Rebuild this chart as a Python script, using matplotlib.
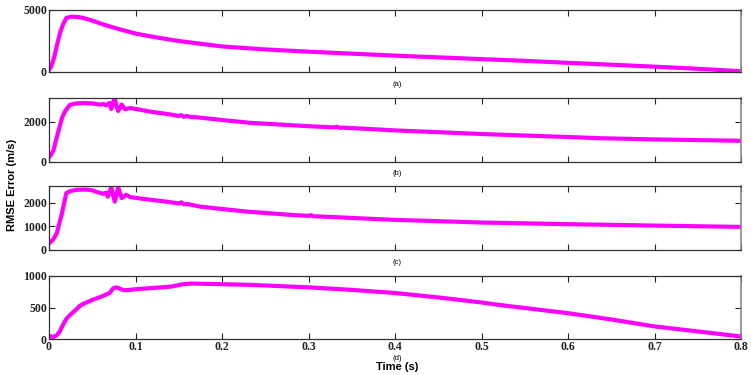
import matplotlib
matplotlib.use("Agg")
import matplotlib.pyplot as plt

# ---------------- data ----------------
t_a = [0, 0.003, 0.006, 0.01, 0.013, 0.016, 0.02, 0.025, 0.03, 0.035, 0.04, 0.05,
       0.06, 0.07, 0.08, 0.1, 0.125, 0.15, 0.2, 0.25, 0.3, 0.35, 0.4, 0.45, 0.5,
       0.55, 0.6, 0.65, 0.7, 0.75, 0.8]
rmse_a = [150, 500, 1200, 2400, 3200, 3800, 4350, 4460, 4450, 4420, 4350, 4150,
          3900, 3680, 3480, 3100, 2780, 2500, 2060, 1820, 1640, 1480, 1320, 1180, 1040,
          900, 740, 590, 430, 260, 60]

t_b = [0, 0.005, 0.01, 0.015, 0.0185, 0.024, 0.03, 0.039, 0.05, 0.059, 0.063, 0.066,
       0.070, 0.072, 0.074, 0.076, 0.078, 0.080, 0.082, 0.084, 0.086, 0.088, 0.094,
       0.117, 0.14, 0.15, 0.153, 0.156, 0.159, 0.165, 0.168, 0.2, 0.232, 0.3, 0.33,
       0.333, 0.336, 0.34, 0.4, 0.5, 0.6, 0.637, 0.7, 0.8]
rmse_b = [220, 560, 1400, 2200, 2530, 2850, 2920, 2950, 2930, 2870, 2900, 2830,
          2950, 2650, 2980, 3200, 2800, 2550, 2700, 2870, 2750, 2640, 2700,
          2520, 2380, 2300, 2340, 2260, 2300, 2240, 2250, 2100, 1960, 1790, 1730,
          1760, 1710, 1720, 1580, 1400, 1250, 1190, 1130, 1060]

t_c = [0, 0.005, 0.009, 0.015, 0.020, 0.025, 0.032, 0.042, 0.05, 0.055, 0.063,
       0.066, 0.068, 0.072, 0.076, 0.080, 0.084, 0.089, 0.094, 0.115, 0.136, 0.150,
       0.153, 0.156, 0.16, 0.175, 0.2, 0.229, 0.28, 0.3, 0.303, 0.306, 0.31, 0.4,
       0.5, 0.6, 0.637, 0.7, 0.8]
rmse_c = [280, 450, 710, 1550, 2400, 2490, 2540, 2550, 2520, 2450, 2370,
          2420, 2250, 2650, 2040, 2650, 2190, 2330, 2230, 2130, 2040, 1960,
          2010, 1930, 1940, 1830, 1730, 1620, 1480, 1440, 1470, 1420, 1420, 1270,
          1160, 1090, 1070, 1030, 975]

t_d = [0, 0.005, 0.009, 0.012, 0.016, 0.02, 0.025, 0.03, 0.036, 0.04, 0.05, 0.06,
       0.07, 0.074, 0.077, 0.08, 0.085, 0.09, 0.1, 0.12, 0.14, 0.155, 0.165, 0.2,
       0.232, 0.3, 0.35, 0.4, 0.45, 0.5, 0.521, 0.6, 0.65, 0.7, 0.75, 0.8]
rmse_d = [50, 30, 60, 110, 220, 320, 390, 450, 530, 560, 620, 670,
          730, 800, 820, 810, 780, 775, 790, 810, 830, 870, 880, 870,
          860, 820, 780, 730, 660, 580, 540, 410, 310, 200, 120, 40]

panels = [
    (t_a, rmse_a, 5000, [0, 5000], "(a)"),
    (t_b, rmse_b, 3200, [0, 2000], "(b)"),
    (t_c, rmse_c, 2700, [0, 1000, 2000], "(c)"),
    (t_d, rmse_d, 1000, [0, 500, 1000], "(d)"),
]
xticks = [0, 0.1, 0.2, 0.3, 0.4, 0.5, 0.6, 0.7, 0.8]
xticklabels = ["0", "0.1", "0.2", "0.3", "0.4", "0.5", "0.6", "0.7", "0.8"]

# ---------------- layout ----------------
W, H = 751, 375
fig = plt.figure(figsize=(W / 100, H / 100), dpi=100)
left, right = 49, 741
boxes = [(10, 72), (98, 162), (186, 250), (276, 339)]
label_y = [84, 173, 262, 358]

tick_font = {"family": "Liberation Serif", "weight": "bold", "size": 8.5}

for i, ((t, v, ymax, yt, lab), (top, bot)) in enumerate(zip(panels, boxes)):
    ax = fig.add_axes([left / W, 1 - bot / H, (right - left) / W, (bot - top) / H])
    ax.plot(t, v, color="#ff00ff", lw=3, solid_joinstyle="round", solid_capstyle="round")
    ax.set_xlim(0, 0.8)
    ax.set_ylim(0, ymax)
    ax.set_xticks(xticks)
    ax.set_yticks(yt)
    ax.set_yticklabels([str(y) for y in yt], fontdict=tick_font)
    if i == 3:
        ax.set_xticklabels(xticklabels, fontdict=tick_font)
    else:
        ax.set_xticklabels([])
    ax.tick_params(direction="in", top=True, right=True, length=4, width=0.8,
                   colors="#222222", pad=1.5)
    for s in ["left", "bottom", "top"]:
        ax.spines[s].set_color("#333333")
        ax.spines[s].set_linewidth(0.9)
    ax.spines["right"].set_color("#888888")
    ax.spines["right"].set_linewidth(1.2)
    fig.text(397 / W, 1 - label_y[i] / H, lab, ha="center", va="center",
             fontsize=5.5, family="Liberation Sans")

fig.text(397 / W, 1 - 367 / H, "Time (s)", ha="center", va="center",
         fontsize=8, fontweight="bold", family="Liberation Sans")
fig.text(12 / W, 1 - 185 / H, "RMSE Error (m/s)", ha="center", va="center",
         rotation=90, fontsize=8, fontweight="bold", family="Liberation Sans")

fig.savefig("out.png", dpi=100)
